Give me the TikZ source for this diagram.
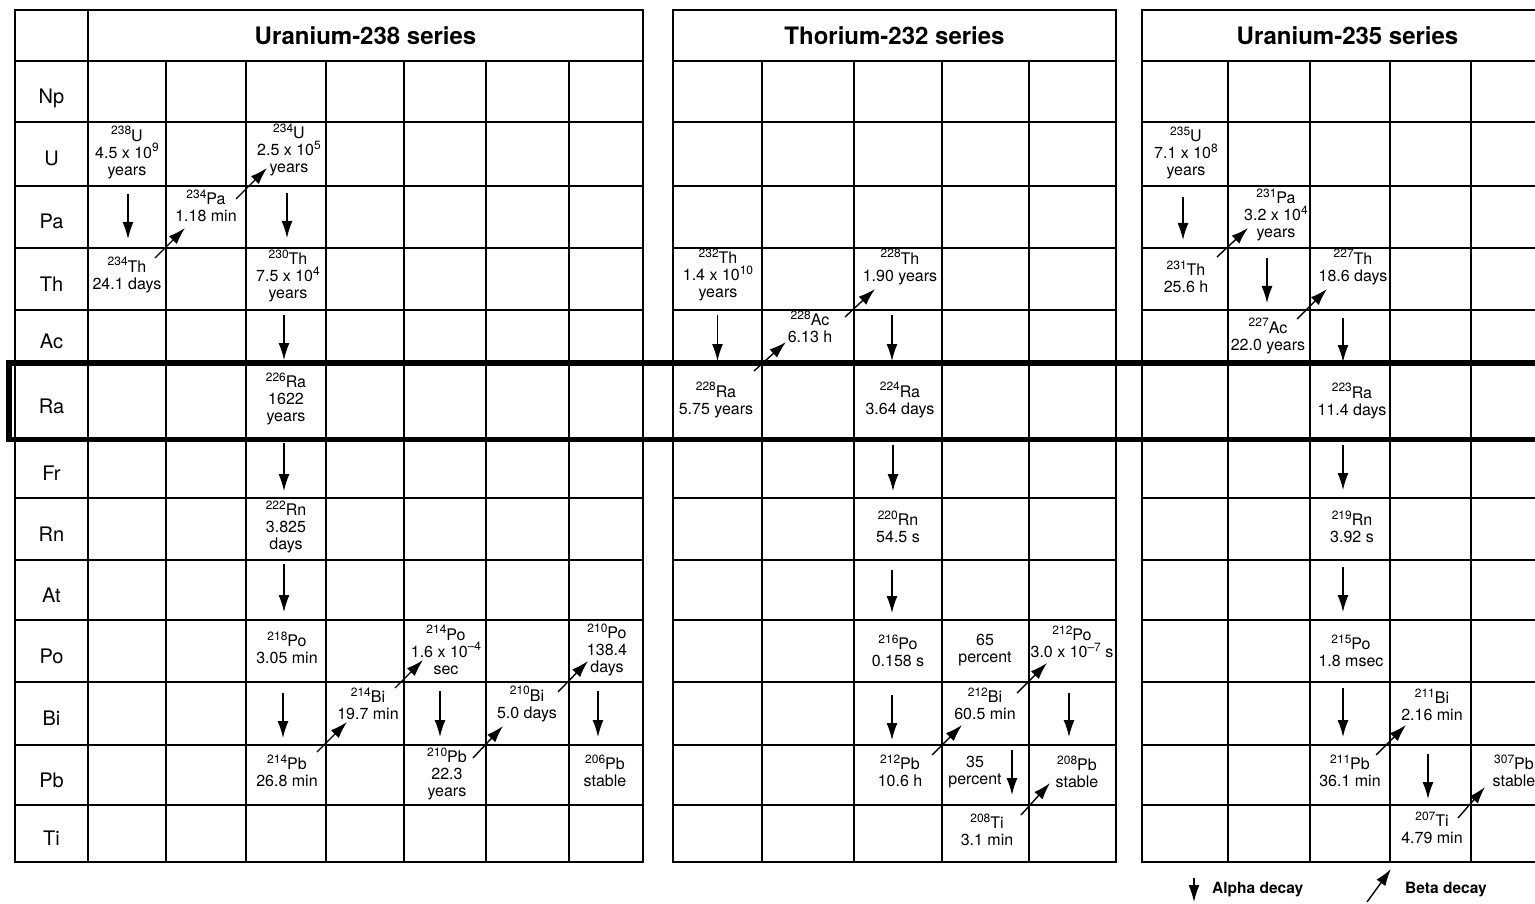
\documentclass[tikz,border=0pt]{standalone}
\usepackage{fontspec}
\setmainfont{TeX Gyre Heros}
\usetikzlibrary{arrows.meta}
\newcommand\sps[1]{\raisebox{6.5pt}{\fontsize{12}{12}\selectfont #1}}
\newcommand\iso[2]{\sps{#1}#2}
\newcommand\alphaarr[4]{\draw[alphaarrow] ([shift={(#2,#3)}]#1.north) -- ([shift={(#2,-#4)}]#1.south);}
\newcommand\betaarr[5]{\draw[betaarrow] ([shift={(#2,#3)}]#1.north east) -- ([shift={(#4,#5)}]#1.north east);}
\tikzset{
 cell/.style={draw, line width=2pt, inner sep=0pt, outer sep=0pt},
 iso/.style={align=center, inner sep=0pt, font=\fontsize{16}{17}\selectfont},
 rowlab/.style={anchor=base, inner sep=0pt, font=\fontsize{20}{20}\selectfont},
 hdr/.style={font=\bfseries\fontsize{24}{24}\selectfont},
 alphaarrow/.style={line width=1.4pt, -{Latex[length=17pt,width=11pt]}},
 betaarrow/.style={line width=1.4pt, -{Latex[length=17pt,width=11pt]}},
 legend/.style={font=\bfseries\fontsize{15.5}{17}\selectfont, inner sep=0pt, anchor=base west},
}
\begin{document}
\begin{tikzpicture}[x=1pt,y=-1pt]
\useasboundingbox (0,0) rectangle (1535,904);
\clip (0,0) rectangle (1535,904);
\fill[white] (0,0) rectangle (1535,904);
% grid cells
\foreach \tab/\first/\start/\cols in {A/15/0/{88,166,246,326,404,486,569,643}, B/673/1/{762,854,942,1029,1116}, C/1142/1/{1228,1310,1390,1471,1553}} {
  \foreach \r [count=\ri, remember=\r as \rp (initially 61)] in {122,186,248,310,363,439,498,560,620,682,745,805,862} {
    \foreach \c [count=\ci from \start, remember=\c as \cp (initially \first)] in \cols {
      \node[cell, minimum width={(\c-\cp)*1pt}, minimum height={(\r-\rp)*1pt}] (\tab-\ri-\ci) at ({(\c+\cp)/2},{(\r+\rp)/2}) {};
    }
  }
}
% headers
\node[cell, minimum width=73pt, minimum height=51pt] (A-h0) at (51.5,35.5) {};
\node[cell, hdr, minimum width=555pt, minimum height=51pt] (A-h) at (365.5,35.5) {Uranium-238 series};
\node[cell, hdr, minimum width=443pt, minimum height=51pt] (B-h) at (894.5,35.5) {Thorium-232 series};
\node[cell, hdr, minimum width=411pt, minimum height=51pt] (C-h) at (1347.5,35.5) {Uranium-235 series};
% row labels
\foreach \lab [count=\i] in {Np,U,Pa,Th,Ac,Ra,Fr,Rn,At,Po,Bi,Pb,Ti}
  \node[rowlab] (lab-\i) at ([yshift=-12pt]A-\i-0.center) {\lab};
% radium band
\draw[line width=5.5pt] (9,363) rectangle (1560,439.5);
% Uranium-238 series
\node[iso] (u238) at (127,152.5) {\iso{238}{U}\\4.5 x 10\sps{9}\\years};
\node[iso] (pa234) at (206,206) {\iso{234}{Pa}\\1.18 min};
\node[iso] (u234) at (289,150) {\iso{234}{U}\\2.5 x 10\sps{5}\\years};
\node[iso] (th234) at (127,275) {\iso{234}{Th}\\24.1 days};
\node[iso] (th230) at (288,276) {\iso{230}{Th}\\7.5 x 10\sps{4}\\years};
\node[iso] (ra226) at (286,399) {\iso{226}{Ra}\\1622\\years};
\node[iso] (rn222) at (286,527) {\iso{222}{Rn}\\3.825\\days};
\node[iso] (po218) at (287,648) {\iso{218}{Po}\\3.05 min};
\node[iso] (pb214) at (287,771) {\iso{214}{Pb}\\26.8 min};
\node[iso] (bi214) at (368,704) {\iso{214}{Bi}\\19.7 min};
\node[iso] (po214) at (446,650) {\iso{214}{Po}\\1.6 x 10\sps{--4}\\sec};
\node[iso] (pb210) at (447,774) {\iso{210}{Pb}\\22.3\\years};
\node[iso] (bi210) at (527,704) {\iso{210}{Bi}\\5.0 days};
\node[iso] (po210) at (607,650) {\iso{210}{Po}\\138.4\\days};
\node[iso] (pb206) at (605,771) {\iso{206}{Pb}\\stable};
% Thorium-232 series
\node[iso] (th232) at (718,275) {\iso{232}{Th}\\1.4 x 10\sps{10}\\years};
\node[iso] (ra228) at (716,400) {\iso{228}{Ra}\\5.75 years};
\node[iso] (ac228) at (810,327) {\iso{228}{Ac}\\6.13 h};
\node[iso] (th228) at (900,267) {\iso{228}{Th}\\1.90 years};
\node[iso] (ra224) at (900,400) {\iso{224}{Ra}\\3.64 days};
\node[iso] (rn220) at (898,527) {\iso{220}{Rn}\\54.5 s};
\node[iso] (po216) at (898,651) {\iso{216}{Po}\\0.158 s};
\node[iso] (pb212) at (900,771) {\iso{212}{Pb}\\10.6 h};
\node[iso] (p65) at (985,650) {65\\percent};
\node[iso] (bi212) at (985,704) {\iso{212}{Bi}\\60.5 min};
\node[iso] (po212) at (1072,642) {\iso{212}{Po}\\3.0 x 10\sps{--7} s};
\node[iso] (pb208) at (1077,772) {\iso{208}{Pb}\\stable};
\node[iso] (p35) at (975,772) {35\\percent};
\node[iso] (ti208) at (987,830) {\iso{208}{Ti}\\3.1 min};
% Uranium-235 series
\node[iso] (u235) at (1186,153) {\iso{235}{U}\\7.1 x 10\sps{8}\\years};
\node[iso] (pa231) at (1276,215) {\iso{231}{Pa}\\3.2 x 10\sps{4}\\years};
\node[iso] (th231) at (1186,277) {\iso{231}{Th}\\25.6 h};
\node[iso] (ac227) at (1268,336) {\iso{227}{Ac}\\22.0 years};
\node[iso] (th227) at (1353,267) {\iso{227}{Th}\\18.6 days};
\node[iso] (ra223) at (1352,401) {\iso{223}{Ra}\\11.4 days};
\node[iso] (rn219) at (1352,527) {\iso{219}{Rn}\\3.92 s};
\node[iso] (po215) at (1351,651) {\iso{215}{Po}\\1.8 msec};
\node[iso] (pb211) at (1350,771) {\iso{211}{Pb}\\36.1 min};
\node[iso] (bi211) at (1432,705) {\iso{211}{Bi}\\2.16 min};
\node[iso] (ti207) at (1432,828) {\iso{207}{Ti}\\4.79 min};
\node[iso] (pb307) at (1514,771) {\iso{307}{Pb}\\stable};
% alpha decays
\alphaarr{A-3-1}{1}{8}{9}
\alphaarr{A-3-3}{1}{7}{10}
\alphaarr{A-5-3}{-2}{5}{3}
\alphaarr{A-7-3}{-2}{4}{7}
\alphaarr{A-9-3}{-2}{4}{8}
\alphaarr{A-11-3}{-3}{11}{7}
\alphaarr{A-11-5}{-5}{9}{8}
\alphaarr{A-11-7}{-8}{9}{8}
\alphaarr{B-5-1}{0}{5}{2}
\alphaarr{B-5-3}{-6}{5}{2}
\alphaarr{B-7-3}{-5}{6}{7}
\alphaarr{B-9-3}{-6}{10}{7}
\alphaarr{B-11-3}{-6}{13}{5}
\alphaarr{B-11-5}{-3.5}{11}{8}
\alphaarr{B-12-4}{26.5}{5}{10}
\alphaarr{C-3-1}{-2}{11}{8}
\alphaarr{C-4-2}{-2}{10}{7}
\alphaarr{C-5-3}{-7}{8}{1}
\alphaarr{C-7-3}{-7}{6}{8}
\alphaarr{C-9-3}{-7}{7}{8}
\alphaarr{C-11-3}{-7}{6}{8}
\alphaarr{C-12-4}{-2.5}{9}{6}
% beta decays
\betaarr{A-4-1}{-11}{10}{19}{-20}
\betaarr{A-3-2}{-10}{13}{21}{-18}
\betaarr{A-12-3}{-9}{7}{21}{-23}
\betaarr{A-11-4}{-9}{6}{19}{-22}
\betaarr{A-12-5}{-13}{13}{17}{-19}
\betaarr{A-11-6}{-11}{10}{19}{-21}
\betaarr{B-6-1}{-8}{8}{24}{-21}
\betaarr{B-5-2}{-9}{7}{21}{-21}
\betaarr{B-12-3}{-10}{10}{20}{-20}
\betaarr{B-11-4}{-12}{11}{18}{-19}
\betaarr{B-13-4}{-8}{10}{21}{-22}
\betaarr{C-4-1}{-11}{9}{20}{-20}
\betaarr{C-5-2}{-13}{9}{17}{-21}
\betaarr{C-12-3}{-14}{10}{16}{-20}
\betaarr{C-13-4}{-13}{13}{14}{-18}
% legend
\node[legend] (alphalab) at (1212,893) {Alpha decay};
\node[legend] (betalab) at (1405,893) {Beta decay};
\draw[alphaarrow] ([shift={(-18,-15)}]alphalab.base west) -- ([shift={(-18,9)}]alphalab.base west);
\draw[betaarrow] ([shift={(-38,9)}]betalab.base west) -- ([shift={(-14,-24)}]betalab.base west);
\end{tikzpicture}
\end{document}
